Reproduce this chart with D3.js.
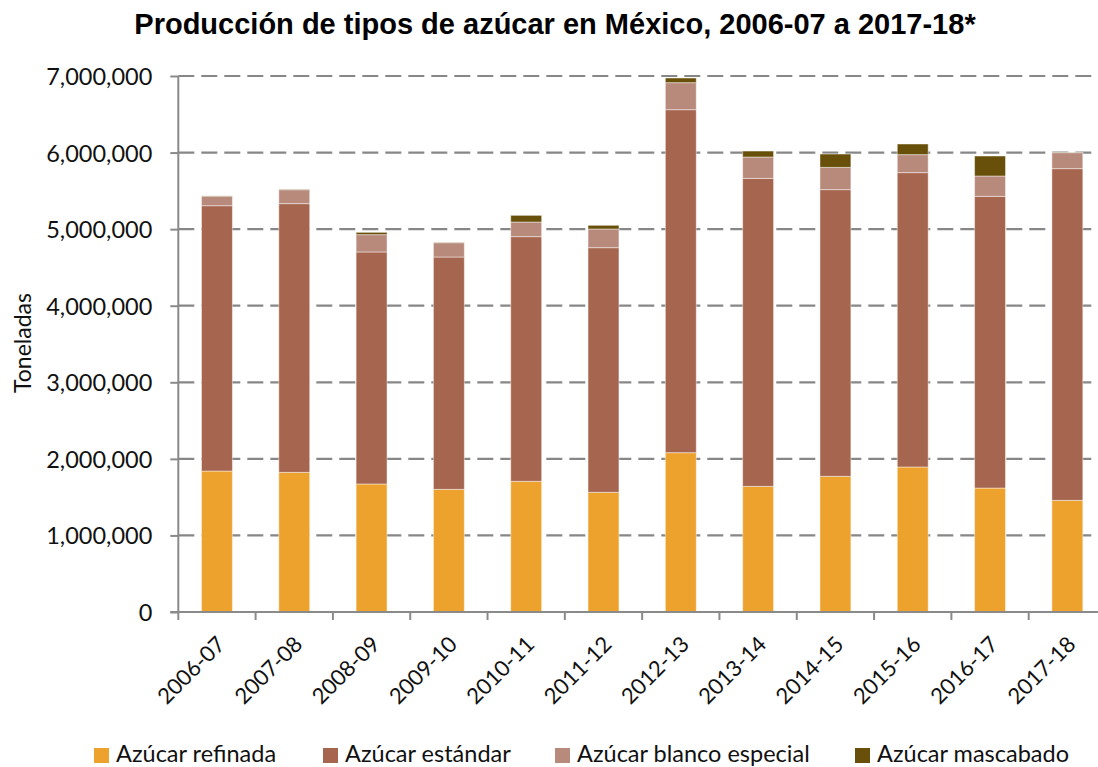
<!DOCTYPE html>
<html>
<head>
<meta charset="utf-8">
<script src="https://cdn.jsdelivr.net/npm/d3@7"></script>
<style>
  body { margin: 0; background: #fff; }
  svg { display: block; }
</style>
</head>
<body>
<svg id="chart" width="1098" height="767"></svg>
<script>
// Zafras (ciclos azucareros)
const zafras = ["2006-07","2007-08","2008-09","2009-10","2010-11","2011-12",
                "2012-13","2013-14","2014-15","2015-16","2016-17","2017-18"];

// Producción por tipo de azúcar, en toneladas
const refinada      = [1841000,1824000,1672000,1602000,1707000,1563000,2081000,1641000,1772000,1894000,1619000,1458000];
const estandar      = [3465000,3509000,3030000,3034000,3195000,3195000,4479000,4022000,3744000,3844000,3809000,4332000];
const blancoEspecial= [ 123000, 182000, 226000, 187000, 191000, 244000, 353000, 279000, 291000, 235000, 266000, 209000];
const mascabado     = [   5000,   5000,  30000,   4000,  87000,  48000,  61000,  78000, 174000, 139000, 261000,   3000];

const yTicks = [0,1000000,2000000,3000000,4000000,5000000,6000000,7000000];

const seriesNames = ["Azúcar refinada","Azúcar estándar","Azúcar blanco especial","Azúcar mascabado"];
const seriesKeys  = ["refinada","estandar","blanco","mascabado"];
const colors      = ["#EEA22E","#A5654E","#B88A7C","#69500A"];

const rows = zafras.map((z, i) => ({
  zafra: z,
  refinada: refinada[i],
  estandar: estandar[i],
  blanco: blancoEspecial[i],
  mascabado: mascabado[i]
}));

const svg = d3.select("#chart");
const labelFont = "Lato, 'Open Sans', sans-serif";

const plot = { left: 178.3, right: 1106, top: 76, bottom: 612 };

const x = d3.scaleBand()
  .domain(zafras)
  .range([plot.left, plot.right])
  .paddingInner(0.6)
  .paddingOuter(0.3);

const y = d3.scaleLinear()
  .domain([0, 7000000])
  .range([plot.bottom, plot.top]);

// Líneas de cuadrícula discontinuas
svg.append("g")
  .selectAll("line")
  .data(yTicks.filter(d => d > 0))
  .join("line")
  .attr("x1", plot.left)
  .attr("x2", plot.right)
  .attr("y1", d => y(d))
  .attr("y2", d => y(d))
  .attr("stroke", "#878787")
  .attr("stroke-width", 2.2)
  .attr("stroke-dasharray", "16,7");

// Barras apiladas
const stacked = d3.stack().keys(seriesKeys)(rows);

svg.append("g")
  .selectAll("g")
  .data(stacked)
  .join("g")
  .attr("fill", (d, i) => colors[i])
  .selectAll("rect")
  .data(d => d)
  .join("rect")
  .attr("x", d => x(d.data.zafra))
  .attr("width", x.bandwidth())
  .attr("y", d => y(d[1]))
  .attr("height", d => y(d[0]) - y(d[1]))
  .attr("stroke", "rgba(255,255,255,0.45)")
  .attr("stroke-width", 1);

// Eje Y
const yAxis = d3.axisLeft(y)
  .tickValues(yTicks)
  .tickSize(8)
  .tickPadding(18)
  .tickFormat(d3.format(","));

const gy = svg.append("g")
  .attr("transform", `translate(${plot.left},0)`)
  .call(yAxis);
gy.select(".domain").attr("stroke", "#8a8a8a").attr("stroke-width", 2)
  .attr("d", `M0,${plot.top}V${plot.bottom}`);
gy.selectAll(".tick line").attr("stroke", "#8a8a8a").attr("stroke-width", 2);
gy.selectAll(".tick text")
  .attr("font-family", labelFont)
  .attr("font-size", 23.5)
  .attr("fill", "#111")
  .attr("dy", "0.36em");

// Eje X
const gx = svg.append("g")
  .attr("transform", `translate(0,${plot.bottom})`)
  .call(d3.axisBottom(x).tickSize(0).tickFormat(""));
gx.select(".domain").attr("stroke", "#8a8a8a").attr("stroke-width", 2)
  .attr("d", `M${plot.left - 8},0H${plot.right}`);

// Marcas entre categorías
const step = x.step();
svg.append("g")
  .selectAll("line")
  .data(d3.range(zafras.length + 1))
  .join("line")
  .attr("x1", i => plot.left + i * step)
  .attr("x2", i => plot.left + i * step)
  .attr("y1", plot.bottom)
  .attr("y2", plot.bottom + 8)
  .attr("stroke", "#8a8a8a")
  .attr("stroke-width", 2);

// Etiquetas de zafra rotadas
svg.append("g")
  .selectAll("text")
  .data(zafras)
  .join("text")
  .attr("transform", d => `translate(${x(d) + x.bandwidth() / 2 + 4},${plot.bottom + 28}) rotate(-45)`)
  .attr("text-anchor", "end")
  .attr("dy", "0.36em")
  .attr("font-family", labelFont)
  .attr("font-size", 22)
  .attr("fill", "#111")
  .text(d => d);

// Título del eje Y
svg.append("text")
  .attr("transform", "translate(31,343) rotate(-90)")
  .attr("text-anchor", "middle")
  .attr("font-family", labelFont)
  .attr("font-size", 23)
  .attr("fill", "#111")
  .text("Toneladas");

// Título
svg.append("text")
  .attr("x", 555)
  .attr("y", 34)
  .attr("text-anchor", "middle")
  .attr("font-family", "'Liberation Sans', Arial, sans-serif")
  .attr("font-weight", "bold")
  .attr("font-size", 29)
  .attr("fill", "#000")
  .text("Producción de tipos de azúcar en México, 2006-07 a 2017-18*");

// Leyenda
const legendX = [94, 323, 555, 855];
const legend = svg.append("g");
seriesNames.forEach((name, i) => {
  legend.append("rect")
    .attr("x", legendX[i]).attr("y", 748)
    .attr("width", 15).attr("height", 15)
    .attr("fill", colors[i]);
  legend.append("text")
    .attr("x", legendX[i] + 22).attr("y", 762)
    .attr("font-family", labelFont)
    .attr("font-size", 23.5)
    .attr("fill", "#111")
    .text(name);
});
</script>
</body>
</html>
